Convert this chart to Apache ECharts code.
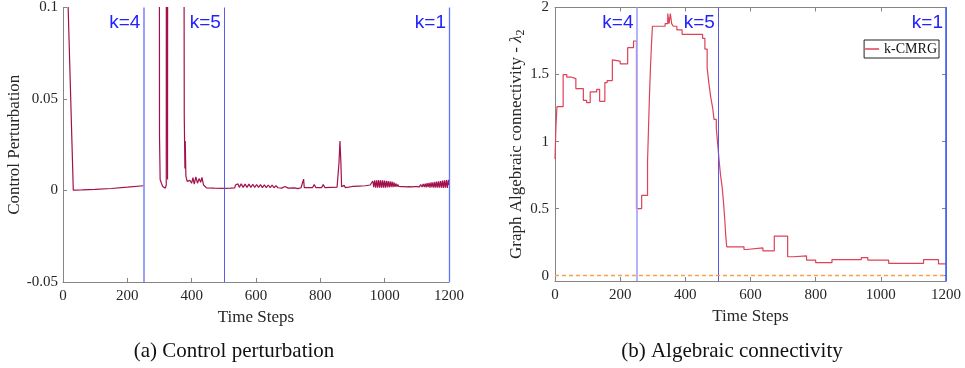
<!DOCTYPE html>
<html><head><meta charset="utf-8">
<script src="https://cdn.jsdelivr.net/npm/echarts@6.0.0/dist/echarts.min.js"></script>
<style>html,body{margin:0;padding:0;background:#fff}#c{width:965px;height:368px}</style>
</head><body><div id="c"></div>
<script>
// ---------- data ----------
const xTickValues = [0, 200, 400, 600, 800, 1000, 1200];
const ctrlTickValues = [-0.05, 0, 0.05, 0.1];
const lambdaTickValues = [0, 0.5, 1, 1.5, 2];
const kBounds = [250, 500, 1200];
const kLabels = ['k=4', 'k=5', 'k=1'];
const captions = ['(a) Control perturbation', '(b) Algebraic connectivity'];

// control perturbation, phase k=4 (0-250)
const ctrlPhase1 = [[0,0.12],[16,0.1],[32,0.0002],[60,0.0003],[100,0.0006],[150,0.0011],[200,0.0018],[250,0.0026]];
// phase k=5 (250-500); the curve is off scale until ~298
const ctrlPhase2 = [[298,0.6],[300,0.03],[302,0.006],[306,0.004],[310,0.0022],[314,0.0014],[318,0.0013],[321,0.003],
  [322,0.4],[324,0.4],[325,0.006],[326,0.4],[327,0.4],[374,0.4],[377,0.04],[379,0.012],[380,0.027],[382,0.008],[386,0.005],
  [390,0.004],[395,0.0055],[400,0.004],[404,0.007],[408,0.0035],[413,0.0075],[418,0.004],[423,0.0065],[428,0.0045],[432,0.0072],
  [437,0.003],[442,0.0038],[446,0.0014],[470,0.0013],[500,0.0012]];
// phase k=1 (500-960)
const ctrlPhase3 = [[500,0.0012],[520,0.0013],[534,0.0014],[536,0.003],[540,0.0022],[544,0.0036],[548,0.0017],[554,0.0036],[560,0.0017],
  [566,0.0035],[572,0.0017],[578,0.0035],[584,0.0017],[590,0.0034],[596,0.0017],[602,0.0033],[608,0.0017],[614,0.0032],
  [620,0.0016],[626,0.0031],[632,0.0016],[638,0.003],[644,0.0016],[650,0.0029],[656,0.0015],[662,0.0027],[668,0.0015],
  [674,0.0025],[680,0.0013],[690,0.0022],[700,0.0013],[720,0.0014],[730,0.001],[740,0.0015],[746,0.0015],[748,0.0062],
  [750,0.0016],[776,0.0016],[781,0.0032],[786,0.0016],[804,0.0016],[809,0.0032],[814,0.0016],[852,0.0018],[856,0.002],
  [858,0.015],[861,0.027],[864,0.015],[866,0.002],[870,0.0012],[874,0.0028],[878,0.0016],[883,0.0025],[888,0.0018],
  [900,0.0022],[920,0.0024],[940,0.0026],[955,0.003]];
// noisy band 960-1041
const ctrlBand1 = [[960,0.0035],[963,0.0052],[966,0.0018],[969,0.0055],[972,0.0016],[975,0.0056],[978,0.0015],[981,0.0057],
  [984,0.0016],[987,0.0056],[990,0.0015],[993,0.0055],[996,0.0016],[999,0.0054],[1002,0.0016],[1005,0.0053],[1008,0.0017],
  [1011,0.0052],[1014,0.0017],[1017,0.005],[1020,0.0018],[1023,0.0048],[1026,0.0019],[1029,0.0044],[1032,0.002],
  [1035,0.0038],[1038,0.0021],[1041,0.0033]];
// thin band 1044-1120
const ctrlThin = [[1044,0.0022],[1048,0.003],[1052,0.0021],[1056,0.0029],[1060,0.0021],[1064,0.0029],[1068,0.002],[1072,0.0028],
  [1076,0.0021],[1080,0.0029],[1084,0.002],[1088,0.0028],[1092,0.0021],[1096,0.003],[1100,0.0021],[1104,0.0031],[1108,0.002],
  [1112,0.0033],[1116,0.0019],[1120,0.0036]];
// noisy band 1123-1200
const ctrlBand2 = [[1123,0.0018],[1126,0.0038],[1129,0.0017],[1132,0.004],[1135,0.0018],[1138,0.0042],[1141,0.0016],[1144,0.0045],
  [1147,0.0017],[1150,0.0044],[1153,0.0016],[1156,0.0047],[1159,0.0015],[1162,0.0048],[1165,0.0016],[1168,0.005],[1171,0.0015],
  [1174,0.0052],[1177,0.0015],[1180,0.0054],[1183,0.0014],[1186,0.0055],[1189,0.0015],[1192,0.0057],[1195,0.0014],[1198,0.0058],[1200,0.003]];

// algebraic connectivity (value starts at given time step)
const lambdaPhase1 = [[0,0.87],[3,1.12],[6,1.26],[25,1.5],[36,1.48],[51,1.47],[64,1.395],[87,1.307],[97,1.29],[108,1.37],
  [128,1.39],[137,1.3],[153,1.44],[160,1.455],[176,1.61],[182,1.6],[200,1.58],[223,1.7],[241,1.75]];
const lambdaPhase2 = [[250,0.5],[266,0.598],[284,0.85],[287,1.1],[290,1.35],[293,1.55],[296,1.72],[299,1.86],[338,1.88],
  [346,1.955],[350,1.88],[354,1.955],[358,1.88],[363,1.86],[374,1.833],[390,1.8],[453,1.77],[460,1.69],[467,1.55],[472,1.44],
  [478,1.33],[484,1.25],[488,1.166],[495,1.1]];
const lambdaPhase3 = [[499,0.99],[504,0.85],[508,0.75],[513,0.66],[517,0.55],[521,0.42],[524,0.3],[527,0.215],[580,0.195],
  [588,0.207],[638,0.185],[673,0.294],[714,0.141],[732,0.148],[772,0.116],[800,0.097],[850,0.12],[940,0.135],[960,0.116],
  [1024,0.092],[1131,0.12],[1177,0.088],[1200,0.088]];

const ctrlSegments = [ctrlPhase1, ctrlPhase2, [].concat(ctrlPhase3, ctrlBand1, ctrlThin, ctrlBand2)];
const lambdaData = [].concat(lambdaPhase1, lambdaPhase2, lambdaPhase3);

// ---------- style ----------
const SERIF = '"Liberation Serif","Times New Roman",serif';
const SANS = '"Liberation Sans",Arial,sans-serif';
const AXIS_C = '#858585';
const LABEL_C = '#262626';
const CTRL_C = '#a3104c';
const LAMBDA_C = '#dd4258';
const boundColorsA = ['#8585ff', '#5a5af2', '#5a78ff'];
const boundColorsB = ['#a6a6ff', '#5656ea', '#3d5fff'];
const boundWidthsA = [1.6, 1, 1.3];
const boundWidthsB = [1.7, 1, 1.6];

function kMarkPoint(ymax) {
  return { silent: true, symbol: 'circle', symbolSize: 0, animation: false,
    data: kBounds.map((b, i) => ({ coord: [b, ymax], label: { show: true, formatter: kLabels[i], position: 'left', distance: 3,
      offset: [0, 15], color: '#2222ff', fontSize: 19, fontFamily: SANS } })) };
}
function kMarkLines(colors, widths) {
  return kBounds.map((b, i) => ({ xAxis: b, lineStyle: { color: colors[i], width: widths[i], type: 'solid', opacity: 1 } }));
}

const baseX = (gi) => ({ type: 'value', gridIndex: gi, min: 0, max: 1200, interval: 200,
  axisLine: { onZero: false, lineStyle: { color: AXIS_C, width: 1 } },
  axisTick: { inside: true, length: 4, lineStyle: { color: AXIS_C } },
  axisLabel: { color: LABEL_C, fontFamily: SERIF, fontSize: 15, margin: 7, formatter: v => String(v) },
  splitLine: { show: false },
  name: 'Time Steps', nameLocation: 'middle', nameGap: 27,
  nameTextStyle: { color: LABEL_C, fontFamily: SERIF, fontSize: 17 } });

const ctrlSeries = ctrlSegments.map((seg) => ({ name: 'ctrl', type: 'line', xAxisIndex: 0, yAxisIndex: 0, data: seg,
  symbol: 'none', clip: true, z: 2, color: CTRL_C, lineStyle: { color: CTRL_C, width: 1.2 } }));

const chart = echarts.init(document.getElementById('c'), null, { renderer: 'canvas' });
chart.setOption({
  animation: false,
  backgroundColor: '#fff',
  grid: [
    { left: 63, top: 6, width: 386, height: 276 },
    { left: 555, top: 5, width: 391, height: 276 }
  ],
  legend: { data: ['k-CMRG'], right: 26, top: 40, orient: 'vertical', borderColor: '#222', borderWidth: 1,
    padding: [2, 2, 2, 1], itemWidth: 14, itemHeight: 1.5, icon: 'rect', selectedMode: false,
    textStyle: { fontFamily: SERIF, fontSize: 14, color: '#111' } },
  xAxis: [
    baseX(0),
    baseX(1),
    { type: 'value', gridIndex: 1, position: 'top', min: 0, max: 1200, interval: 200,
      axisLine: { onZero: false, lineStyle: { color: AXIS_C } },
      axisTick: { inside: true, length: 4, lineStyle: { color: AXIS_C } },
      axisLabel: { show: false }, splitLine: { show: false } }
  ],
  yAxis: [
    { type: 'value', gridIndex: 0, min: -0.05, max: 0.1, interval: 0.05,
      axisLine: { show: true, onZero: false, lineStyle: { color: AXIS_C } },
      axisTick: { show: true, inside: true, length: 4, lineStyle: { color: AXIS_C } },
      axisLabel: { color: LABEL_C, fontFamily: SERIF, fontSize: 15, margin: 5 },
      splitLine: { show: false },
      name: 'Control Perturbation', nameLocation: 'middle', nameGap: 33,
      nameTextStyle: { color: LABEL_C, fontFamily: SERIF, fontSize: 17 } },
    { type: 'value', gridIndex: 1, min: -0.04, max: 2,
      axisLine: { show: true, onZero: false, lineStyle: { color: AXIS_C } },
      axisTick: { show: true, inside: true, length: 4, customValues: lambdaTickValues, lineStyle: { color: AXIS_C } },
      axisLabel: { color: LABEL_C, fontFamily: SERIF, fontSize: 15, margin: 6, customValues: lambdaTickValues },
      splitLine: { show: false },
      name: 'Graph Algebraic connectivity - {l|λ}{s|2}', nameLocation: 'middle', nameGap: 28,
      nameTextStyle: { color: LABEL_C, fontFamily: SERIF, fontSize: 17,
        rich: { l: { fontFamily: SERIF, fontSize: 17, fontStyle: 'italic', color: LABEL_C },
                s: { fontFamily: SERIF, fontSize: 12, color: LABEL_C, verticalAlign: 'bottom', padding: [8, 0, 0, 0] } } } },
    { type: 'value', gridIndex: 1, position: 'right', min: -0.04, max: 2,
      axisLine: { show: true, onZero: false, lineStyle: { color: AXIS_C } },
      axisTick: { show: true, inside: true, length: 4, customValues: lambdaTickValues, lineStyle: { color: AXIS_C } },
      axisLabel: { show: false }, splitLine: { show: false } }
  ],
  series: ctrlSeries.concat([
    { name: 'k-CMRG', type: 'line', step: 'end', xAxisIndex: 1, yAxisIndex: 1, data: lambdaData, symbol: 'none', clip: true,
      z: 2, color: LAMBDA_C, lineStyle: { color: LAMBDA_C, width: 1.2 } },
    { name: 'marksA', type: 'line', xAxisIndex: 0, yAxisIndex: 0, data: [], z: 6, silent: true,
      markLine: { silent: true, symbol: ['none', 'none'], label: { show: false }, animation: false,
        data: kMarkLines(boundColorsA, boundWidthsA) },
      markPoint: kMarkPoint(0.1) },
    { name: 'marksB', type: 'line', xAxisIndex: 1, yAxisIndex: 1, data: [], z: 6, silent: true,
      markLine: { silent: true, symbol: ['none', 'none'], label: { show: false }, animation: false,
        data: kMarkLines(boundColorsB, boundWidthsB).concat([{ yAxis: 0, lineStyle: { color: '#f7a04e', width: 1.4, type: [4, 3], opacity: 1 } }]) },
      markPoint: kMarkPoint(2) }
  ]),
  graphic: [
    { type: 'text', x: 234, y: 351, style: { text: captions[0], font: '21px ' + SERIF, fill: '#111', textAlign: 'center', textVerticalAlign: 'middle' } },
    { type: 'text', x: 732, y: 351, style: { text: captions[1], font: '21px ' + SERIF, fill: '#111', textAlign: 'center', textVerticalAlign: 'middle' } }
  ]
});
</script></body></html>
